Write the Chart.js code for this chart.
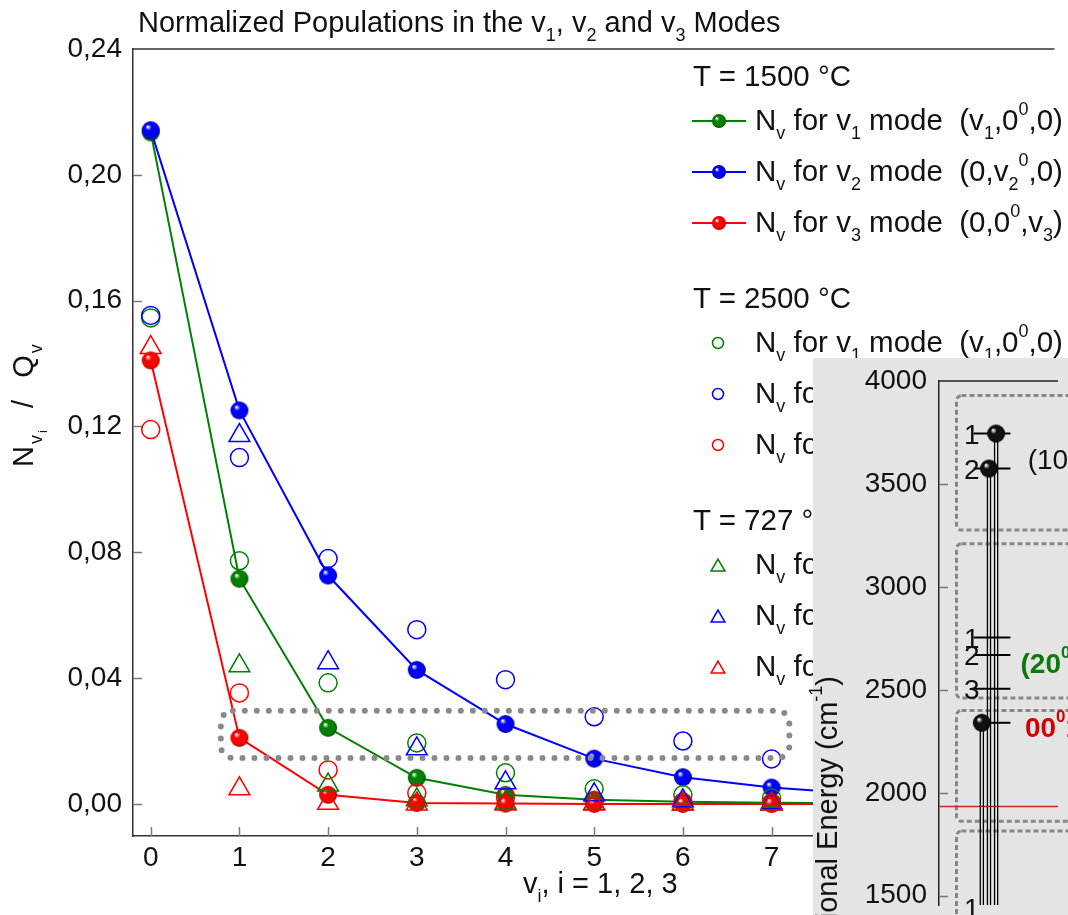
<!DOCTYPE html>
<html lang="en">
<head>
<meta charset="UTF-8">
<title>Normalized Populations in the v1, v2 and v3 Modes</title>
<script src="https://cdn.jsdelivr.net/npm/chart.js"></script>
<style>
  body { margin: 0; width: 1068px; height: 915px; overflow: hidden; position: relative; background: #fff; font-family: "Liberation Sans", Arial, sans-serif; color: #111; }
  canvas { position: absolute; }
  #main { left: 0; top: 0; }
  #inset { left: 813px; top: 358px; z-index: 2; }
  .txt { position: absolute; font-size: 29px; line-height: 29px; white-space: nowrap; }
  .leg { font-size: 29.5px; line-height: 29.5px; }
  .txt sub, .txt sup { font-size: 18px; line-height: 0; vertical-align: baseline; position: relative; }
  .txt sub { top: 9px; }
  .txt sup { top: -15px; }
  .txt sub sub { font-size: 13px; top: 5px; }
  .rot { transform-origin: 0 0; transform: rotate(-90deg); }
  #ytitle { letter-spacing: 2px; }
  #energyTitle { z-index: 3; width: 420px; text-align: right; }
</style>
</head>
<body>
<canvas id="main" width="1068" height="915"></canvas>
<div class="txt" style="left:138px; top:8px">Normalized Populations in the v<sub>1</sub>, v<sub>2</sub> and v<sub>3</sub> Modes</div>
<div id="ytitle" class="txt rot" style="left:9px; top:467px">N<sub>v<sub>i</sub></sub>&nbsp; /&nbsp; Q<sub>v</sub></div>
<div class="txt" style="left:523px; top:869px">v<sub>i</sub>, i = 1, 2, 3</div>
<div id="legend"></div>
<canvas id="inset" width="255" height="557"></canvas>
<div id="energyTitle" class="txt rot" style="left:813px; top:1096px">Vibrational Energy (cm<sup>-1</sup>)</div>

<script>
const FONT = '"Liberation Sans", Arial, sans-serif';

// ---- main chart data ----
const levels = [0, 1, 2, 3, 4, 5, 6, 7, 8];
const xTicks = [0, 1, 2, 3, 4, 5, 6, 7, 8];
const yTicks = [0, 0.04, 0.08, 0.12, 0.16, 0.20, 0.24];

// T = 1500 °C  (filled balls, joined)
const nu1At1500 = [0.2135, 0.0716, 0.0242, 0.0083, 0.0029, 0.0013, 0.0007, 0.0004, 0.0002];
const nu2At1500 = [0.2142, 0.1251, 0.0726, 0.0426, 0.0254, 0.0144, 0.0085, 0.0052, 0.0032];
const nu3At1500 = [0.1410, 0.0210, 0.0029, 0.0003, 0.0001, 0, 0, 0, 0];
// T = 2500 °C  (open circles)
const nu1At2500 = [0.1545, 0.0773, 0.0385, 0.0194, 0.0099, 0.0048, 0.0029, 0.0019];
const nu2At2500 = [0.1553, 0.1101, 0.0780, 0.0554, 0.0395, 0.0277, 0.0200, 0.0143];
const nu3At2500 = [0.1190, 0.0353, 0.0108, 0.0035, 0.0022, 0.0010, 0.0005, 0.0003];
// T = 727 °C  (open triangles)
const nu1At727 = [null, 0.0439, 0.0060, 0.0013, 0.0003, 0.0001, 0, 0];
const nu2At727 = [null, 0.1171, 0.0449, 0.0175, 0.0067, 0.0029, 0.0010, 0.0004];
const nu3At727 = [0.1451, 0.0048, 0.0002, 0, 0, 0, 0, 0];

// dotted highlight box (data units)
const zoomBox = { x0: 0.79, x1: 7.2, y0: 0.0146, y1: 0.0296 };

const legendTitles = ['T = 1500 °C', 'T = 2500 °C', 'T = 727 °C'];
const legendModes = [
  'N<sub>v</sub> for v<sub>1</sub> mode&nbsp; (v<sub>1</sub>,0<sup>0</sup>,0)',
  'N<sub>v</sub> for v<sub>2</sub> mode&nbsp; (0,v<sub>2</sub><sup>0</sup>,0)',
  'N<sub>v</sub> for v<sub>3</sub> mode&nbsp; (0,0<sup>0</sup>,v<sub>3</sub>)'
];

// ---- inset (energy levels) data ----
const energyTicks = [1500, 2000, 2500, 3000, 3500, 4000];
const levelEnergy = [3745, 3575, 2754, 2669, 2505, 2340, 1440];
const levelNumber = ['1', '2', '1', '2', '3', '', '1'];
const populatedEnergy = [3745, 3575, 2340];
const populatedColumn = [4.8, 4.2, 3.6];
const groupTop = [3929, 3210, 2400, 1814];
const groupBottom = [3276, 2460, 1862, 1200];
const referenceLine = 1933;

const GREEN = '#008000', BLUE = '#0000ff', RED = '#ff0000';

function ball(color, dark, r) {
  const c = document.createElement('canvas');
  const d = Math.ceil(r * 2) + 2;
  c.width = c.height = d;
  const g = c.getContext('2d');
  const m = d / 2;
  const grad = g.createRadialGradient(m - r * 0.35, m - r * 0.4, r * 0.05, m, m, r);
  grad.addColorStop(0, '#ffffff');
  grad.addColorStop(0.3, color);
  grad.addColorStop(0.8, color);
  grad.addColorStop(1, dark);
  g.fillStyle = grad;
  g.beginPath();
  g.arc(m, m, r, 0, Math.PI * 2);
  g.fill();
  return c;
}

const balls = {
  g: ball(GREEN, '#004d00', 9), b: ball(BLUE, '#00008a', 9), r: ball(RED, '#9a0000', 9),
  gs: ball(GREEN, '#004d00', 7), bs: ball(BLUE, '#00008a', 7), rs: ball(RED, '#9a0000', 7),
  k: ball('#111', '#000', 9)
};

function pts(arr) {
  return arr.map((y, i) => ({ x: levels[i], y }));
}

function marker(data, color, style, r) {
  return { data: pts(data), showLine: false, pointStyle: style, pointRadius: r,
           pointBorderWidth: 1.5, borderColor: color, pointBorderColor: color,
           pointBackgroundColor: 'rgba(0,0,0,0)' };
}

function joined(data, color, img) {
  return { data: pts(data), borderColor: color, borderWidth: 2, tension: 0,
           pointStyle: img, pointRadius: 9 };
}

// legend html
const HEAD_BASE = [86, 308, 530];
const ROW_OFF = [44, 95, 146];
let lg = '';
legendTitles.forEach((t, g) => {
  lg += `<div class="txt leg" style="left:693px; top:${HEAD_BASE[g] - 25}px">${t}</div>`;
  legendModes.forEach((m, k) => {
    lg += `<div class="txt leg" style="left:755px; top:${HEAD_BASE[g] + ROW_OFF[k] - 25}px">${m}</div>`;
  });
});
document.getElementById('legend').innerHTML = lg;

function roundRect(ctx, x0, y0, x1, y1, r) {
  ctx.beginPath();
  ctx.moveTo(x0 + r, y0);
  ctx.arcTo(x1, y0, x1, y1, r);
  ctx.arcTo(x1, y1, x0, y1, r);
  ctx.arcTo(x0, y1, x0, y0, r);
  ctx.arcTo(x0, y0, x1, y0, r);
  ctx.closePath();
}

function triangle(ctx, x, y, r) {
  ctx.beginPath();
  ctx.moveTo(x, y - r);
  ctx.lineTo(x + r * 0.866, y + r / 2);
  ctx.lineTo(x - r * 0.866, y + r / 2);
  ctx.closePath();
}

const mainDecor = {
  id: 'mainDecor',
  beforeDatasetsDraw(chart) {
    const { ctx, chartArea: a, scales: { x, y } } = chart;
    ctx.save();
    ctx.strokeStyle = '#7a7a7a';
    ctx.lineWidth = 1.5;
    xTicks.forEach(v => {
      const px = Math.round(x.getPixelForValue(v)) + 0.5;
      ctx.beginPath(); ctx.moveTo(px, a.bottom); ctx.lineTo(px, a.bottom - 9); ctx.stroke();
    });
    yTicks.filter(v => v < 0.24).forEach(v => {
      const py = Math.round(y.getPixelForValue(v)) + 0.5;
      ctx.beginPath(); ctx.moveTo(a.left, py); ctx.lineTo(a.left + 9, py); ctx.stroke();
    });
    ctx.strokeStyle = '#333';
    ctx.beginPath(); ctx.moveTo(a.left, a.top); ctx.lineTo(a.right, a.top); ctx.stroke();
    ctx.restore();
  },
  afterDatasetsDraw(chart) {
    const { ctx, scales: { x, y } } = chart;
    ctx.save();
    ctx.strokeStyle = '#8a8a8a';
    ctx.lineWidth = 6;
    ctx.lineCap = 'round';
    ctx.setLineDash([0, 12]);
    roundRect(ctx, x.getPixelForValue(zoomBox.x0), y.getPixelForValue(zoomBox.y1),
              x.getPixelForValue(zoomBox.x1), y.getPixelForValue(zoomBox.y0), 12);
    ctx.stroke();
    ctx.restore();
  },
  afterDraw(chart) {
    const ctx = chart.ctx;
    const colors = [GREEN, BLUE, RED];
    const small = [balls.gs, balls.bs, balls.rs];
    ctx.save();
    HEAD_BASE.forEach((hb, g) => {
      ROW_OFF.forEach((off, k) => {
        const cy = hb + off - 9;
        ctx.strokeStyle = colors[k];
        ctx.lineWidth = 1.5;
        if (g === 0) {
          ctx.lineWidth = 2;
          ctx.beginPath(); ctx.moveTo(692, cy); ctx.lineTo(746, cy); ctx.stroke();
          ctx.drawImage(small[k], 719 - small[k].width / 2, cy - small[k].height / 2);
        } else if (g === 1) {
          ctx.beginPath(); ctx.arc(718, cy, 5.5, 0, Math.PI * 2); ctx.stroke();
        } else {
          triangle(ctx, 718, cy + 2, 8); ctx.stroke();
        }
      });
    });
    ctx.restore();
  }
};

new Chart(document.getElementById('main'), {
  type: 'line',
  data: {
    datasets: [
      marker(nu3At727, RED, 'triangle', 12),
      marker(nu2At727, BLUE, 'triangle', 12),
      marker(nu1At727, GREEN, 'triangle', 12),
      marker(nu3At2500, RED, 'circle', 9),
      marker(nu2At2500, BLUE, 'circle', 9),
      marker(nu1At2500, GREEN, 'circle', 9),
      joined(nu2At1500, BLUE, balls.b),
      joined(nu3At1500, RED, balls.r),
      joined(nu1At1500, GREEN, balls.g)
    ]
  },
  options: {
    responsive: false,
    animation: false,
    devicePixelRatio: 1,
    layout: { padding: { top: 49, right: 0, bottom: 0, left: 0 } },
    plugins: { legend: { display: false }, tooltip: { enabled: false } },
    scales: {
      x: {
        type: 'linear', min: -0.2, max: 10.19,
        afterBuildTicks: s => { s.ticks = xTicks.map(v => ({ value: v })); },
        afterFit: s => { s.height = 79; s.paddingLeft = 0; s.paddingRight = 0; },
        grid: { display: false, drawTicks: false },
        border: { display: true, color: '#333', width: 1.5 },
        ticks: { font: { family: FONT, size: 28 }, color: '#111', padding: 5, maxRotation: 0, autoSkip: false,
                 callback: v => String(v) }
      },
      y: {
        min: -0.0102, max: 0.24,
        afterBuildTicks: s => { s.ticks = yTicks.map(v => ({ value: v })); },
        afterFit: s => { s.width = 133; s.paddingTop = 0; s.paddingBottom = 0; },
        grid: { display: false, drawTicks: false },
        border: { display: true, color: '#333', width: 1.5 },
        ticks: { font: { family: FONT, size: 28 }, color: '#111', padding: 11,
                 callback: v => v.toFixed(2).replace('.', ',') }
      }
    }
  },
  plugins: [mainDecor]
});

// ---- inset ----
function drawParts(ctx, parts, x, y, size, weight, color) {
  let cx = x;
  ctx.fillStyle = color;
  ctx.textBaseline = 'alphabetic';
  ctx.textAlign = 'left';
  parts.forEach(([t, s]) => {
    const fs = s ? Math.round(size * 0.6) : size;
    ctx.font = `${weight} ${fs}px ${FONT}`;
    ctx.fillText(t, cx, y - (s < 0 ? size * 0.53 : 0));
    cx += ctx.measureText(t).width;
  });
}

const groupLabels = [
  { E: 3620, x: 7.45, color: '#111', weight: 'normal',
    parts: [['(10', 0], ['0', -1], ['0, 02', 0], ['0', -1], ['0)', 0]] },
  { E: 2630, x: 6.85, color: '#0b7a0b', weight: 'bold',
    parts: [['(20', 0], ['0', -1], ['0, 12', 0], ['0', -1], ['0)', 0]] },
  { E: 2320, x: 7.22, color: '#d40000', weight: 'bold',
    parts: [['00', 0], ['0', -1], ['1', 0]] }
];

const insetSets = [];
populatedEnergy.forEach((E, i) => {
  [-0.13, 0.13].forEach(dx => {
    insetSets.push({ data: [{ x: populatedColumn[i] + dx, y: E }, { x: populatedColumn[i] + dx, y: 1455 }],
                     borderColor: '#000', borderWidth: 1.3, pointRadius: 0 });
  });
});
levelEnergy.forEach((E, i) => {
  const start = levelNumber[i] === '' ? populatedColumn[2] : 2.9;
  insetSets.push({ data: [{ x: start, y: E }, { x: 6.0, y: E }], borderColor: '#000', borderWidth: 2, pointRadius: 0 });
});
insetSets.unshift({ data: populatedEnergy.map((E, i) => ({ x: populatedColumn[i], y: E })), showLine: false,
                    pointStyle: balls.k, pointRadius: 9 });
insetSets.push({ data: [{ x: 0, y: referenceLine }, { x: 10, y: referenceLine }], borderColor: '#e02020', borderWidth: 1.5, pointRadius: 0 });

const insetDecor = {
  id: 'insetDecor',
  beforeDraw(chart) {
    const ctx = chart.ctx;
    ctx.save();
    ctx.fillStyle = '#e4e4e4';
    ctx.fillRect(0, 0, chart.width, chart.height);
    ctx.restore();
  },
  beforeDatasetsDraw(chart) {
    const { ctx, chartArea: a, scales: { x, y } } = chart;
    ctx.save();
    ctx.strokeStyle = '#888';
    ctx.lineWidth = 3;
    ctx.setLineDash([5, 3]);
    groupTop.forEach((t, i) => {
      roundRect(ctx, x.getPixelForValue(1.47), y.getPixelForValue(t), x.getPixelForValue(14), y.getPixelForValue(groupBottom[i]), 5);
      ctx.stroke();
    });
    ctx.setLineDash([]);
    ctx.strokeStyle = '#777';
    ctx.lineWidth = 1.5;
    energyTicks.filter(v => v < 4000).forEach(v => {
      const py = Math.round(y.getPixelForValue(v)) + 0.5;
      ctx.beginPath(); ctx.moveTo(a.left, py); ctx.lineTo(a.left + 9, py); ctx.stroke();
    });
    ctx.strokeStyle = '#222';
    ctx.beginPath(); ctx.moveTo(a.left, a.top); ctx.lineTo(a.right, a.top); ctx.stroke();
    ctx.restore();
  },
  afterDatasetsDraw(chart) {
    const { ctx, scales: { x, y } } = chart;
    ctx.save();
    ctx.font = `28px ${FONT}`;
    ctx.fillStyle = '#111';
    ctx.textAlign = 'right';
    ctx.textBaseline = 'alphabetic';
    levelEnergy.forEach((E, i) => {
      if (levelNumber[i]) ctx.fillText(levelNumber[i], x.getPixelForValue(3.41), y.getPixelForValue(E) + 10);
    });
    groupLabels.forEach(l => {
      drawParts(ctx, l.parts, x.getPixelForValue(l.x), y.getPixelForValue(l.E) + 10, 28, l.weight, l.color);
    });
    ctx.restore();
  }
};

new Chart(document.getElementById('inset'), {
  type: 'line',
  data: { datasets: insetSets },
  options: {
    responsive: false,
    animation: false,
    devicePixelRatio: 1,
    layout: { padding: { top: 23, right: 0, bottom: 0, left: 0 } },
    plugins: { legend: { display: false }, tooltip: { enabled: false } },
    scales: {
      x: { type: 'linear', min: 0, max: 10, display: false },
      y: {
        min: 1455, max: 4000,
        afterBuildTicks: s => { s.ticks = energyTicks.map(v => ({ value: v })); },
        afterFit: s => { s.width = 126; s.paddingTop = 0; s.paddingBottom = 0; },
        grid: { display: false, drawTicks: false },
        border: { display: true, color: '#222', width: 1.5 },
        ticks: { font: { family: FONT, size: 28 }, color: '#111', padding: 12, callback: v => String(v) }
      }
    }
  },
  plugins: [insetDecor]
});
</script>
</body>
</html>
